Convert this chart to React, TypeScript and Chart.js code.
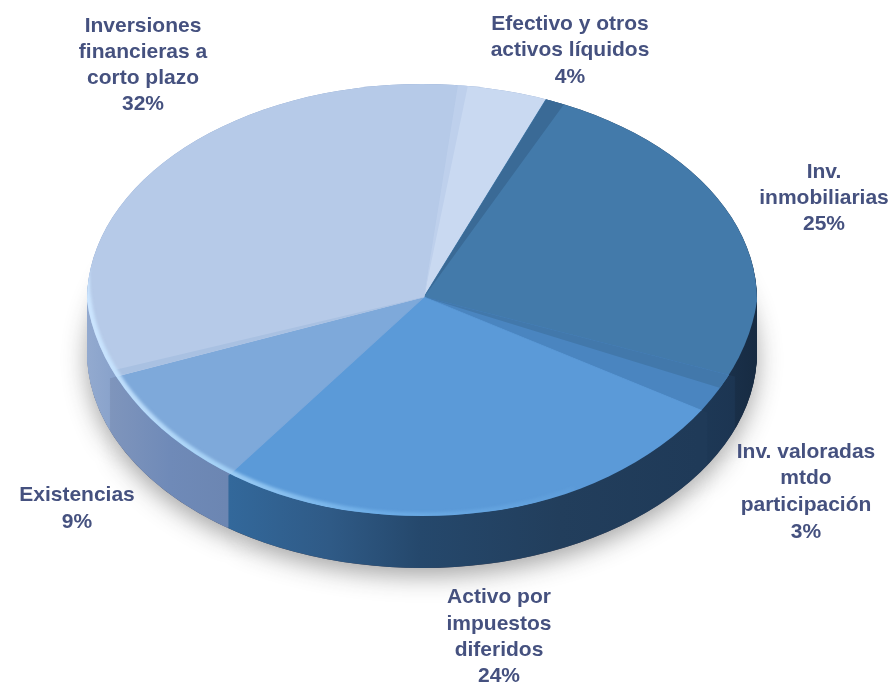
import { useEffect, useRef } from "react";
import { Chart, registerables } from "chart.js";

Chart.register(...registerables);

// Portfolio shares, in percent, clockwise from the top of the pie.
const categories = [
  ["Efectivo y otros", "activos líquidos"],
  ["Inv.", "inmobiliarias"],
  ["Inv. valoradas", "mtdo", "participación"],
  ["Activo por", "impuestos", "diferidos"],
  ["Existencias"],
  ["Inversiones", "financieras a", "corto plazo"],
];
const shares = [4, 25, 3, 24, 9, 32];

const topColors = ["#c9d9f1", "#437aaa", "#4a85c0", "#5b9ad8", "#7ea9da", "#b6cae8"];

// Horizontal shading of each slice's outer wall: [page x, colour].
const wallShades: [number, string][][] = [
  [[400, "#8da5cd"], [600, "#8da5cd"]],
  [[700, "#1c3552"], [757, "#172b42"]],
  [[680, "#1e3a58"], [735, "#1c3552"]],
  [[224, "#33699c"], [330, "#2f5a86"], [420, "#25486c"], [560, "#223e5c"], [700, "#1f3a58"]],
  [[110, "#7f95bc"], [170, "#6f8ab8"], [226, "#6c86b2"]],
  [[86, "#93aacf"], [120, "#86a0ca"]],
];

// Narrow wedges of sheen lying on the slices: slice, degrees, colour.
const sheens: [number, number, string][] = [
  [1, 3.2, "#3a6a96"],
  [2, 4, "#4278ab"],
  [5, 1.8, "#a9c1e2"],
  [0, 1.6, "#bed0ec"],
];

// Where each label block sits on the page: centre x and the y of every line.
const labelAnchors: [number, number[]][] = [
  [570, [24, 50, 77]],
  [824, [172, 198, 224]],
  [806, [452, 478, 505, 532]],
  [499, [597, 624, 650, 676]],
  [77, [495, 522]],
  [143, [26, 52, 78, 104]],
];

// Disc outline, the flatter front curve of its top face, and the slices' apex.
const DISC = { x: 422, y: 300, rx: 335, ry: 216 };
const FRONT = { x: 422, y: 275, rx: 337, ry: 242 };
const APEX = { x: 424, y: 297, rx: 380, ry: 228 };
const WALL_DEPTH = 52;

function project(ctx: CanvasRenderingContext2D, arc: any, f: { x: number; y: number; rx: number; ry: number }, dy: number) {
  ctx.translate(f.x, f.y + dy);
  ctx.scale(f.rx / arc.outerRadius, f.ry / arc.outerRadius);
  ctx.translate(-arc.x, -arc.y);
}

function clipEllipse(ctx: CanvasRenderingContext2D, f: { x: number; y: number; rx: number; ry: number }, dy: number) {
  ctx.beginPath();
  ctx.ellipse(f.x, f.y + dy, f.rx, f.ry, 0, 0, Math.PI * 2);
  ctx.clip();
}

function restyled(arc: any, overrides: any, fill: any) {
  const copy = Object.create(arc);
  copy.options = { ...arc.options, backgroundColor: fill, borderColor: fill, borderWidth: 0 };
  Object.assign(copy, overrides);
  return copy;
}

const tiltedPie = {
  id: "tiltedPie",
  beforeDatasetsDraw(chart: any) {
    const ctx: CanvasRenderingContext2D = chart.ctx;
    const arcs = chart.getDatasetMeta(0).data;
    const first = arcs[0];
    const sx = APEX.rx / first.outerRadius;
    const gradients = wallShades.map((stops) => {
      const toChart = (x: number) => first.x + (x - APEX.x) / sx;
      const g = ctx.createLinearGradient(toChart(stops[0][0]), 0, toChart(stops[stops.length - 1][0]), 0);
      const span = stops[stops.length - 1][0] - stops[0][0];
      stops.forEach(([x, c]) => g.addColorStop((x - stops[0][0]) / span, c));
      return g;
    });

    // Soft ground shadow under the base of the disc.
    ctx.save();
    ctx.shadowColor = "rgba(40,40,40,0.42)";
    ctx.shadowBlur = 24;
    ctx.shadowOffsetY = 8;
    project(ctx, first, DISC, WALL_DEPTH);
    arcs.forEach((arc: any) => restyled(arc, {}, "#445").draw(ctx));
    ctx.restore();

    // Outer wall, stacked from the base up to the level of the top face.
    for (let dy = WALL_DEPTH; dy >= 0; dy--) {
      ctx.save();
      clipEllipse(ctx, DISC, dy);
      project(ctx, first, APEX, dy);
      arcs.forEach((arc: any, i: number) => restyled(arc, {}, gradients[i]).draw(ctx));
      ctx.restore();
    }

    // Top face: the slices themselves, trimmed to the disc and its front curve.
    ctx.save();
    clipEllipse(ctx, DISC, 0);
    clipEllipse(ctx, FRONT, 0);
    project(ctx, first, APEX, 0);
  },
  afterDatasetsDraw(chart: any) {
    const ctx: CanvasRenderingContext2D = chart.ctx;
    const arcs = chart.getDatasetMeta(0).data;

    sheens.forEach(([slice, deg, color]) => {
      const arc = arcs[slice];
      const width = (deg * Math.PI) / 180;
      restyled(arc, { endAngle: arc.startAngle + width, circumference: width }, color).draw(ctx);
    });
    ctx.restore();

    // Bright rim catching the light along the front-left of the disc.
    ctx.save();
    clipEllipse(ctx, DISC, 0);
    clipEllipse(ctx, FRONT, 0);
    const rim = ctx.createLinearGradient(87, 0, 620, 0);
    rim.addColorStop(0, "rgba(205,230,255,0.95)");
    rim.addColorStop(0.25, "rgba(170,215,250,0.85)");
    rim.addColorStop(0.55, "rgba(120,185,240,0.6)");
    rim.addColorStop(1, "rgba(120,185,240,0)");
    ctx.filter = "blur(1.5px)";
    ctx.strokeStyle = rim;
    ctx.lineWidth = 9;
    ctx.beginPath();
    ctx.ellipse(FRONT.x, FRONT.y, FRONT.rx, FRONT.ry, 0, Math.PI * 0.35, Math.PI * 1.06);
    ctx.stroke();
    ctx.restore();
  },
  afterDraw(chart: any) {
    const ctx: CanvasRenderingContext2D = chart.ctx;
    ctx.save();
    ctx.font = "bold 21px 'Liberation Sans'";
    ctx.fillStyle = "#45517f";
    ctx.textAlign = "center";
    ctx.textBaseline = "middle";
    categories.forEach((lines, i) => {
      const [x, ys] = labelAnchors[i];
      [...lines, `${shares[i]}%`].forEach((line, j) => ctx.fillText(line, x, ys[j]));
    });
    ctx.restore();
  },
};

export default function App() {
  const ref = useRef<HTMLCanvasElement>(null);
  useEffect(() => {
    const chart = new Chart(ref.current!, {
      type: "pie",
      data: {
        labels: categories.map((l) => l.join(" ")),
        datasets: [{ data: shares, backgroundColor: topColors, borderColor: topColors, borderWidth: 1 }],
      },
      options: {
        animation: false,
        responsive: false,
        rotation: 5.5,
        plugins: { legend: { display: false }, tooltip: { enabled: false } },
      },
      plugins: [tiltedPie],
    });
    return () => chart.destroy();
  }, []);
  return (
    <div style={{ position: "absolute", left: 0, top: 0 }}>
      <canvas ref={ref} width={892} height={685} style={{ display: "block" }} />
    </div>
  );
}
